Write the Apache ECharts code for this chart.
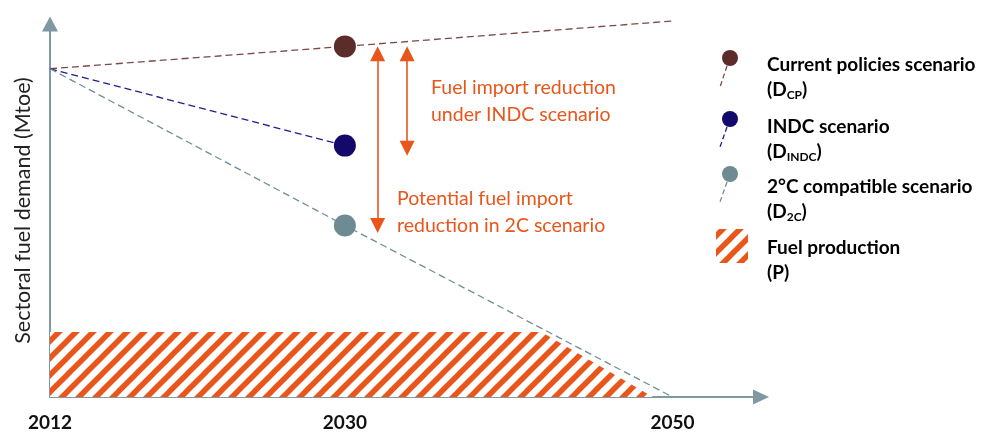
<!DOCTYPE html>
<html>
<head>
<meta charset="utf-8">
<script src="https://cdn.jsdelivr.net/npm/echarts@6/dist/echarts.min.js"></script>
<style>
html,body{margin:0;padding:0;background:#fff;}
#chart{width:988px;height:432px;}
</style>
</head>
<body>
<div id="chart"></div>
<script>
// ---- data ----
const years = [2012, 2030, 2050];
const xTickLabels = ['2012', '2030', '2050'];
const cpValues = [88, 94, 100.8];          // Current policies scenario (D_CP)
const indcValues = [88, 67.4];             // INDC scenario (D_INDC), 2012..2030
const c2Values = [88, 46, 0];              // 2°C compatible scenario (D_2C)
const productionYears = [2012, 2042, 2048.8];
const productionValues = [17.4, 17.4, 0];  // Fuel production (P)
const yAxisName = 'Sectoral fuel demand (Mtoe)';
const annotationINDC = ['Fuel import reduction', 'under INDC scenario'];
const annotation2C = ['Potential fuel import', 'reduction in 2C scenario'];
const legendNames = [
  ['Current policies scenario', 'CP'],
  ['INDC scenario', 'INDC'],
  ['2°C compatible scenario', '2C'],
  ['Fuel production', null]
];

// ---- styles ----
const ORANGE = '#E8561C';
const AXIS = '#7F98A1';
const cpLine = '#7A4A46', cpDot = '#5B2C28';
const indcLine = '#221C8E', indcDot = '#12096B';
const c2Line = '#6F8E98', c2Dot = '#6E8A93';
const FONT = 'Lato, "Open Sans", sans-serif';

function makeHatch() {
  const s = 17;
  const c = document.createElement('canvas');
  c.width = s; c.height = s;
  const g = c.getContext('2d');
  g.fillStyle = '#fff';
  g.fillRect(0, 0, s, s);
  g.strokeStyle = ORANGE;
  g.lineWidth = 5.5;
  [0, s, 2 * s].forEach(k => {
    g.beginPath();
    g.moveTo(k + s, -s);
    g.lineTo(-s, k + s);
    g.stroke();
  });
  return c;
}
const hatch = { image: makeHatch(), repeat: 'repeat' };

const chart = echarts.init(document.getElementById('chart'), null, { renderer: 'canvas' });

const dash = [7, 4];
const arrowX1 = years[1] + 2;
const arrowX2 = years[1] + 3.8;

const option = {
  backgroundColor: '#fff',
  animation: false,
  grid: { left: 50, right: 227, top: 24, bottom: 34, containLabel: false },
  xAxis: {
    type: 'value', min: 2012, max: 2055.4,
    splitLine: { show: false },
    axisLine: { show: true, onZero: false, lineStyle: { color: AXIS, width: 2 }, symbol: ['none', 'triangle'], symbolSize: [15, 16] },
    axisTick: { show: false },
    axisLabel: {
      show: true, customValues: years, margin: 16,
      formatter: v => xTickLabels[years.indexOf(v)] || '',
      fontFamily: FONT, fontWeight: 'bold', fontSize: 19, color: '#111'
    }
  },
  yAxis: {
    type: 'value', min: 0, max: 100,
    splitLine: { show: false },
    axisLine: { show: true, onZero: false, lineStyle: { color: AXIS, width: 2 }, symbol: ['none', 'triangle'], symbolSize: [16, 15] },
    axisTick: { show: false },
    axisLabel: { show: false },
    name: yAxisName, nameLocation: 'middle', nameRotate: 90, nameGap: 16,
    nameTextStyle: { fontFamily: FONT, fontSize: 21.5, color: '#222' }
  },
  series: [
    {
      name: 'Fuel production', type: 'line', symbol: 'none', z: 1,
      data: productionYears.map((x, i) => [x, productionValues[i]]),
      lineStyle: { width: 0 },
      areaStyle: { color: hatch, opacity: 1 }
    },
    {
      name: 'CP line', type: 'line', symbol: 'none', clip: false, z: 2,
      data: years.map((x, i) => [x, cpValues[i]]),
      lineStyle: { color: cpLine, width: 1.3, type: dash }
    },
    {
      name: 'INDC line', type: 'line', symbol: 'none', clip: false, z: 2,
      data: years.slice(0, 2).map((x, i) => [x, indcValues[i]]),
      lineStyle: { color: indcLine, width: 1.3, type: dash }
    },
    {
      name: '2C line', type: 'line', symbol: 'none', clip: false, z: 2,
      data: years.map((x, i) => [x, c2Values[i]]),
      lineStyle: { color: c2Line, width: 1.3, type: dash }
    },
    {
      name: 'dots', type: 'scatter', symbolSize: 22, z: 3, clip: false,
      itemStyle: { opacity: 1 },
      data: [
        { value: [years[1], cpValues[1]], itemStyle: { color: cpDot, opacity: 1 } },
        { value: [years[1], indcValues[1]], itemStyle: { color: indcDot, opacity: 1 } },
        { value: [years[1], c2Values[1]], itemStyle: { color: c2Dot, opacity: 1 } }
      ],
      markLine: {
        silent: true, animation: false,
        symbol: ['triangle', 'triangle'], symbolSize: [15, 15],
        label: { show: false },
        lineStyle: { color: ORANGE, width: 1.6, type: 'solid' },
        data: [
          [{ coord: [arrowX1, cpValues[1] - 2] }, { coord: [arrowX1, c2Values[1]] }],
          [{ coord: [arrowX2, cpValues[1] - 2] }, { coord: [arrowX2, indcValues[1] - 0.7] }]
        ]
      }
    }
  ],
  graphic: [
    { type: 'text', x: 431, y: 101.5, style: { text: annotationINDC.join('\n'), fill: ORANGE, fontFamily: FONT, fontSize: 19.5, lineHeight: 27, verticalAlign: 'middle' } },
    { type: 'text', x: 397, y: 212, style: { text: annotation2C.join('\n'), fill: ORANGE, fontFamily: FONT, fontSize: 19.5, lineHeight: 27, verticalAlign: 'middle' } },
    // legend markers
    { type: 'line', shape: { x1: 727, y1: 66, x2: 720, y2: 87 }, style: { stroke: cpLine, lineWidth: 1.3, lineDash: [5, 3] } },
    { type: 'circle', shape: { cx: 730, cy: 58, r: 8 }, style: { fill: cpDot } },
    { type: 'line', shape: { x1: 727, y1: 127, x2: 720, y2: 147 }, style: { stroke: indcLine, lineWidth: 1.3, lineDash: [5, 3] } },
    { type: 'circle', shape: { cx: 730, cy: 119, r: 8 }, style: { fill: indcDot } },
    { type: 'line', shape: { x1: 727, y1: 182, x2: 720, y2: 202 }, style: { stroke: c2Line, lineWidth: 1.3, lineDash: [5, 3] } },
    { type: 'circle', shape: { cx: 730, cy: 174, r: 8 }, style: { fill: c2Dot } },
    { type: 'rect', shape: { x: 716, y: 229, width: 32, height: 34 }, style: { fill: hatch } },
    // legend texts
    ...legendNames.map((ln, i) => {
      const ys = [65, 127, 187, 248];
      const sub = ln[1] ? '(D{sub|' + ln[1] + '})' : '(P)';
      return {
        type: 'text', x: 767, y: ys[i] - 12.5,
        style: {
          text: ln[0] + '\n' + sub,
          fontFamily: FONT, fontWeight: 'bold', fontSize: 19, lineHeight: 25, fill: '#000',
          verticalAlign: 'top',
          rich: { sub: { fontFamily: FONT, fontWeight: 'bold', fontSize: 12, padding: [10, 0, 0, 0], fill: '#000' } }
        }
      };
    })
  ]
};
chart.setOption(option);
</script>
</body>
</html>
